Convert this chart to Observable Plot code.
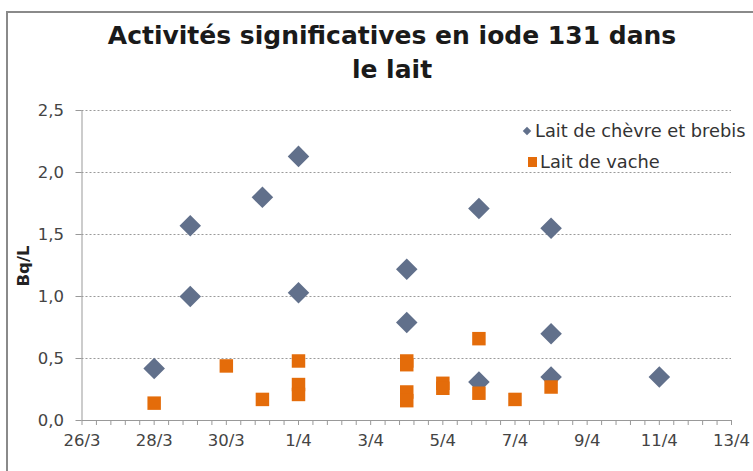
<!DOCTYPE html>
<html><head><meta charset="utf-8">
<script src="https://cdn.jsdelivr.net/npm/d3@7"></script>
<script src="https://cdn.jsdelivr.net/npm/@observablehq/plot@0.6"></script>
<style>
body{margin:0;background:#fff;}
#wrap{position:relative;width:753px;height:471px;overflow:hidden;font-family:"DejaVu Sans",sans-serif;background:#fff;}
#frame{position:absolute;left:6px;top:11px;width:900px;height:600px;border-left:2px solid #8a8a8a;border-top:2px solid #8a8a8a;}
#title{position:absolute;left:0;width:784px;top:19px;text-align:center;font-weight:bold;font-size:25px;line-height:34px;color:#1a1a1a;}
#chart{position:absolute;left:0;top:0;}
#ylab{position:absolute;left:23px;top:266px;transform:translate(-50%,-50%) rotate(-90deg);font-weight:bold;font-size:16.5px;color:#222;white-space:nowrap;}
.leg{position:absolute;font-size:17.8px;color:#333;white-space:nowrap;line-height:20px;}
.mk{position:absolute;}
</style></head>
<body>
<div id="wrap">
  <div id="frame"></div>
  <div id="chart"></div>
  <div id="title">Activités significatives en iode 131 dans<br>le lait</div>
  <div id="ylab">Bq/L</div>
  <div class="mk" style="left:524px;top:128px;width:6px;height:6px;background:#61708B;transform:rotate(45deg);"></div>
  <div class="leg" id="leg1" style="left:535px;top:121px;">Lait de chèvre et brebis</div>
  <div class="mk" style="left:528px;top:157px;width:9px;height:10px;background:#E46C0A;"></div>
  <div class="leg" id="leg2" style="left:540px;top:152px;">Lait de vache</div>
</div>
<script>
// Series: Lait de chèvre et brebis (diamonds)
const goatDates = ["2011-03-28","2011-03-29","2011-03-29","2011-03-31","2011-04-01","2011-04-01","2011-04-04","2011-04-04","2011-04-06","2011-04-06","2011-04-08","2011-04-08","2011-04-08","2011-04-11"];
const goatValues = [0.42,1.57,1.00,1.80,2.13,1.03,1.22,0.79,1.71,0.31,1.55,0.70,0.35,0.35];
// Series: Lait de vache (squares)
const cowDates = ["2011-03-28","2011-03-30","2011-03-31","2011-04-01","2011-04-01","2011-04-01","2011-04-04","2011-04-04","2011-04-04","2011-04-04","2011-04-05","2011-04-05","2011-04-06","2011-04-06","2011-04-07","2011-04-08"];
const cowValues = [0.14,0.44,0.17,0.48,0.29,0.21,0.48,0.45,0.23,0.16,0.30,0.26,0.66,0.22,0.17,0.27];
// Axis ticks
const xTickDates = ["2011-03-26","2011-03-28","2011-03-30","2011-04-01","2011-04-03","2011-04-05","2011-04-07","2011-04-09","2011-04-11","2011-04-13"];
const xTickLabels = ["26/3","28/3","30/3","1/4","3/4","5/4","7/4","9/4","11/4","13/4"];
const yTicks = [0,0.5,1,1.5,2,2.5];
const yTickLabels = ["0,0","0,5","1,0","1,5","2,0","2,5"];

const toDate = s => new Date(s + "T00:00:00Z");
const goat = goatDates.map((d,i)=>({date:toDate(d), value:goatValues[i]}));
const cow = cowDates.map((d,i)=>({date:toDate(d), value:cowValues[i]}));
const xStart = toDate(xTickDates[0]);
const xEnd = toDate(xTickDates[xTickDates.length-1]);
const xMajor = xTickDates.map(toDate);
const DAY = 86400000;
const minorTicks = d3.range(0, (xEnd - xStart)/DAY + 0.001, 0.4).map(t => new Date(+xStart + t*DAY));

const chart = Plot.plot({
  width:753, height:471,
  marginLeft:81.5, marginRight:22, marginTop:110, marginBottom:51,
  x:{type:"utc", domain:[xStart, xEnd]},
  y:{domain:[0,2.5]},
  style:{fontFamily:"DejaVu Sans, sans-serif", fontSize:"16px", color:"#444", background:"transparent"},
  marks:[
    Plot.ruleY(yTicks.slice(1), {stroke:"#9a9a9a", strokeDasharray:"2,2", strokeWidth:1}),
    Plot.axisY({ticks:yTicks, tickFormat:d => yTickLabels[yTicks.indexOf(d)], tickSize:6, tickPadding:12, label:null, stroke:"#999", fill:"#444", fontSize:16.5}),
    Plot.axisX({ticks:minorTicks, tickFormat:() => "", tickSize:5, label:null, stroke:"#999"}),
    Plot.axisX({ticks:xMajor, tickFormat:d => xTickLabels[xMajor.findIndex(t => +t === +d)], tickSize:0, tickPadding:14, label:null, fill:"#444", fontSize:16.5}),
    Plot.ruleX([xStart], {stroke:"#999"}),
    Plot.ruleY([0], {stroke:"#999"}),
    Plot.dot(goat, {x:"date", y:"value", symbol:"diamond2", r:9.7, fill:"#61708B"}),
    Plot.dot(cow, {x:"date", y:"value", symbol:"square", r:7.6, fill:"#E46C0A"})
  ]
});
document.getElementById("chart").appendChild(chart);
</script>
</body></html>
